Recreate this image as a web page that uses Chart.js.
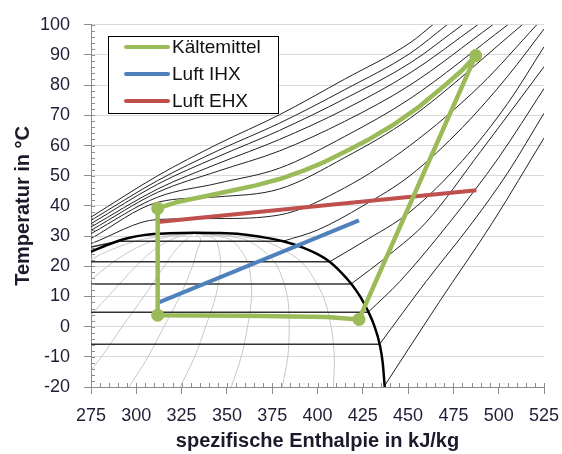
<!DOCTYPE html>
<html>
<head>
<meta charset="utf-8">
<script src="https://cdn.jsdelivr.net/npm/chart.js@4.4.1/dist/chart.umd.min.js"></script>
<style>
  html, body { margin: 0; padding: 0; background: #fff; }
  canvas { display: block; }
</style>
</head>
<body>
<canvas id="chart" width="562" height="454"></canvas>
<script>
// axis ranges and ticks
const hMin = 275, hMax = 525, hStep = 25, hMinor = 5;
const tMin = -20, tMax = 100, tStep = 10, tMinor = 2;

// refrigerant cycle (CO2), enthalpy kJ/kg and temperature °C
const kaeltemittelH = [311.8, 322, 338, 353, 366, 379.1, 392, 404, 416, 428.8, 441.7, 456.4, 470, 480, 487.3, 422.9, 405, 360, 311.8, 311.8];
const kaeltemittelT = [39.2, 41.2, 43.2, 45.1, 46.8, 48.9, 51.6, 54.6, 58.2, 62.2, 66.8, 73, 79.8, 85, 89.8, 2.4, 3.2, 3.6, 3.8, 39.2];
const kaeltemittelMarker = [1, 0, 0, 0, 0, 0, 0, 0, 0, 0, 0, 0, 0, 0, 1, 1, 0, 0, 1, 0];

// air streams
const luftIhxH = [311.8, 422.9];
const luftIhxT = [7.9, 35.2];
const luftEhxH = [311.8, 487.7];
const luftEhxT = [34.7, 45.2];

// saturation line [h, T]
const dome = [[275, 24.8], [285, 27.3], [295, 29.3], [305, 30.4], [318, 30.9], [332, 31.1], [345, 31.0], [358, 30.6],
  [370, 29.6], [381, 28.3], [392, 26.2], [400, 24], [406.7, 21.5], [413, 18], [418.5, 14.3], [423.5, 10],
  [428, 5], [431.5, 0], [434.3, -5.8], [436, -12], [437.1, -20]];

// isobars, wet part (straight)
const p30Nass = [[275, -5.8], [434.3, -5.8]];
const p40Nass = [[275, 4.8], [428, 4.8]];
const p50Nass = [[275, 14.1], [418.5, 14.1]];
const p60Nass = [[275, 21.5], [406.7, 21.5]];
const p70Nass = [[275, 26.4], [290.5, 28.3], [381, 28.3]];

// isobars, superheated / supercritical part
const p20 = [[437.1, -19.5], [467, 8], [496.7, 34.6], [525, 62.5]];
const p30 = [[434.3, -5.8], [460, 15], [485.6, 34.6], [505, 51], [525, 70.7]];
const p40 = [[428, 4.8], [445.5, 15], [473, 34.6], [500, 56], [525, 78.9]];
const p50 = [[418.5, 14.1], [440, 24], [460, 34.6], [490, 58], [525, 86.1]];
const p60 = [[406.7, 21.5], [425, 28], [451, 38], [480, 55], [505, 74], [525, 92.7]];
const p70 = [[381, 28.3], [400, 32], [425, 40], [451, 50], [480, 66], [505, 83], [525, 98.6]];
const p80 = [[275, 27.5], [311.8, 35.5], [345, 35.8], [379, 37], [415, 46], [451, 60], [490, 80], [521, 100]];
const p90 = [[275, 29.2], [311.8, 41.2], [345, 43], [379, 45.6], [415, 56], [451, 69], [513, 100]];
const p100 = [[275, 30.8], [311.8, 42.9], [345, 47.5], [379, 52.5], [415, 63], [451, 75.5], [505, 100]];
const p110 = [[275, 31.9], [311.8, 44.5], [345, 51.5], [379, 58.2], [415, 68], [451, 80], [496.7, 100]];
const p120 = [[275, 33], [311.8, 45.6], [345, 54], [379, 62], [415, 72], [451, 84], [488.4, 100]];
const p130 = [[275, 34.1], [311.8, 47.2], [345, 56.3], [379, 65], [415, 75.5], [451, 87.3], [480, 100]];
const p140 = [[275, 35.2], [311.8, 48.4], [345, 58.3], [379, 67.4], [415, 78.5], [451, 90.5], [471.5, 100]];
const p150 = [[275, 36.3], [311.8, 50], [345, 60.5], [379, 70.2], [415, 82], [451, 94], [463.6, 100]];

// lines of constant vapour quality x = 0.1 ... 0.9
const q1 = [[183.2, -20], [203.7, -10], [223.1, 0], [244.8, 10], [268.6, 20], [284.3, 25], [303.9, 29], [332, 31]];
const q2 = [[211.4, -20], [229.4, -10], [246.1, 0], [264.6, 10], [284.2, 20], [296.6, 25], [311.8, 29], [332, 31]];
const q3 = [[239.6, -20], [255.1, -10], [269.2, 0], [284.4, 10], [299.8, 20], [308.9, 25], [319.7, 29], [332, 31]];
const q4 = [[267.8, -20], [280.8, -10], [292.2, 0], [304.2, 10], [315.4, 20], [321.2, 25], [327.6, 29], [332, 31]];
const q5 = [[296, -20], [306.5, -10], [315.3, 0], [324, 10], [331, 20], [333.5, 25], [335.5, 29], [332, 31]];
const q6 = [[324.2, -20], [332.2, -10], [338.3, 0], [343.8, 10], [346.6, 20], [345.8, 25], [343.4, 29], [332, 31]];
const q7 = [[352.4, -20], [357.9, -10], [361.4, 0], [363.6, 10], [362.2, 20], [358.1, 25], [351.3, 29], [332, 31]];
const q8 = [[380.6, -20], [383.6, -10], [384.4, 0], [383.4, 10], [377.8, 20], [370.4, 25], [359.2, 29], [332, 31]];
const q9 = [[408.8, -20], [409.3, -10], [407.5, 0], [403.2, 10], [393.4, 20], [382.7, 25], [367.1, 29], [332, 31]];

const FONT = '"Liberation Sans", Arial, sans-serif';

function pairs(hs, ts) {
  return hs.map((h, i) => ({ x: h, y: ts[i] }));
}

function bgLine(pts, color, width, mode) {
  return {
    data: pts.map(([h, t]) => ({ x: h, y: t })),
    showLine: true,
    borderColor: color,
    borderWidth: width,
    pointRadius: 0,
    fill: false,
    clip: 0,
    tension: mode === 'smooth' ? 0.3 : 0,
    cubicInterpolationMode: mode === 'monotone' ? 'monotone' : 'default'
  };
}

const datasets = [
  {
    label: 'Kältemittel', inLegend: true,
    data: pairs(kaeltemittelH, kaeltemittelT),
    showLine: true, borderColor: '#9bbb59', backgroundColor: '#9bbb59', borderWidth: 4.5,
    pointRadius: kaeltemittelMarker.map(m => m ? 6.5 : 0), pointBorderWidth: 0,
    tension: 0, borderJoinStyle: 'round'
  },
  {
    label: 'Luft IHX', inLegend: true,
    data: pairs(luftIhxH, luftIhxT),
    showLine: true, borderColor: '#4f81bd', borderWidth: 4, pointRadius: 0
  },
  {
    label: 'Luft EHX', inLegend: true,
    data: pairs(luftEhxH, luftEhxT),
    showLine: true, borderColor: '#c0504d', borderWidth: 4, pointRadius: 0
  },
  bgLine(dome, '#000', 2.5, 'monotone')
];

[p30Nass, p40Nass, p50Nass, p60Nass, p70Nass].forEach(p => datasets.push(bgLine(p, '#333', 1.5, 'straight')));
[p20, p30, p40, p50, p60, p70, p80, p90, p100, p110, p120, p130, p140, p150].forEach(p => datasets.push(bgLine(p, '#222', 1, 'monotone')));
[q1, q2, q3, q4, q5, q6, q7, q8, q9].forEach(q => datasets.push(bgLine(q, '#c8c8c8', 1, 'smooth')));

// minor tick marks on both axes
const minorTicks = {
  id: 'minorTicks',
  afterDraw(chart) {
    const { ctx, chartArea: a, scales: { x, y } } = chart;
    ctx.save();
    ctx.strokeStyle = '#8c8c8c';
    ctx.lineWidth = 1;
    ctx.beginPath();
    for (let v = hMin; v <= hMax; v += hMinor) {
      const px = Math.round(x.getPixelForValue(v)) + 0.5;
      ctx.moveTo(px, a.bottom);
      ctx.lineTo(px, a.bottom - 4);
    }
    for (let v = tMin; v <= tMax; v += tMinor) {
      const py = Math.round(y.getPixelForValue(v)) + 0.5;
      ctx.moveTo(a.left, py);
      ctx.lineTo(a.left + 4, py);
    }
    ctx.stroke();
    ctx.restore();
  }
};

// framed legend inside the plot
const boxLegend = {
  id: 'boxLegend',
  afterDraw(chart) {
    const { ctx, chartArea: a } = chart;
    const items = chart.data.datasets.filter(d => d.inLegend);
    const left = Math.round(a.left) + 17, top = Math.round(a.top) + 11;
    ctx.save();
    ctx.fillStyle = '#fff';
    ctx.fillRect(left, top, 170, 77);
    ctx.strokeStyle = '#000';
    ctx.lineWidth = 1;
    ctx.strokeRect(left + 0.5, top + 0.5, 170, 77);
    ctx.font = '19px ' + FONT;
    ctx.textBaseline = 'middle';
    items.forEach((d, i) => {
      const yy = top + 11 + i * 27;
      ctx.strokeStyle = d.borderColor;
      ctx.lineWidth = 4;
      ctx.lineCap = 'round';
      ctx.beginPath();
      ctx.moveTo(left + 18, yy);
      ctx.lineTo(left + 60, yy);
      ctx.stroke();
      ctx.fillStyle = '#111';
      ctx.fillText(d.label, left + 64, yy + 1);
    });
    ctx.restore();
  }
};

new Chart(document.getElementById('chart'), {
  type: 'scatter',
  data: { datasets },
  options: {
    responsive: false,
    animation: false,
    layout: { padding: { top: 21, right: 18, left: 0, bottom: 0 } },
    plugins: { legend: { display: false }, tooltip: { enabled: false } },
    scales: {
      x: {
        type: 'linear', min: hMin, max: hMax,
        afterFit: s => { s.height = 67; s.paddingLeft = 0; s.paddingRight = 0; },
        ticks: { stepSize: hStep, color: '#1e1e36', font: { family: FONT, size: 18 }, padding: 11 },
        grid: { drawOnChartArea: false, tickLength: 7, tickColor: '#8c8c8c' },
        border: { color: '#8c8c8c' },
        title: { display: true, text: 'spezifische Enthalpie in kJ/kg', color: '#1a1a2a',
          font: { family: FONT, size: 20, weight: 'bold' }, padding: { top: 0, bottom: 1 } }
      },
      y: {
        type: 'linear', min: tMin, max: tMax,
        afterFit: s => { s.width = 91; },
        ticks: { stepSize: tStep, color: '#1e1e36', font: { family: FONT, size: 18 }, padding: 14 },
        grid: { color: '#d9d9d9', tickLength: 7, tickColor: '#8c8c8c' },
        border: { color: '#8c8c8c' },
        title: { display: true, text: 'Temperatur in °C', color: '#1a1a2a',
          font: { family: FONT, size: 20, weight: 'bold' }, padding: { top: 11, bottom: 0 } }
      }
    }
  },
  plugins: [minorTicks, boxLegend]
});
</script>
</body>
</html>
